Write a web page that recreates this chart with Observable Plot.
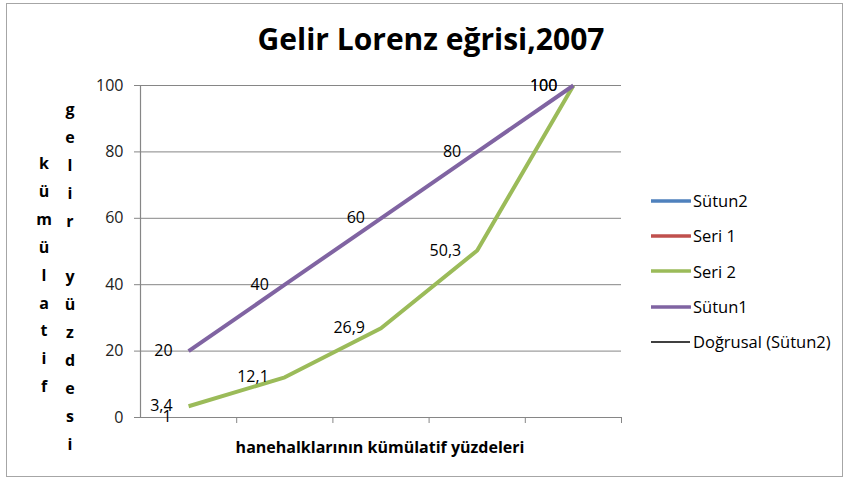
<!DOCTYPE html>
<html><head><meta charset="utf-8">
<script src="https://cdn.jsdelivr.net/npm/d3@7"></script>
<script src="https://cdn.jsdelivr.net/npm/@observablehq/plot@0.6"></script>
<style>
body{margin:0;background:#fff;font-family:"Open Sans",sans-serif}
#wrap{position:relative;width:849px;height:484px;overflow:hidden;background:#fff}
#frame{position:absolute;left:6px;top:3px;width:837px;height:474px;border:1px solid #a6a6a6;box-sizing:border-box}
#title{position:absolute;left:0;width:862px;top:18px;text-align:center;font-weight:bold;font-size:30px;color:#000}
#plot{position:absolute;left:0;top:0}
.ycol{position:absolute;top:0;white-space:pre;font-weight:bold;font-size:16px;line-height:27.9px;text-align:center;width:20px;color:#000}
#xtitle{position:absolute;left:139px;width:482px;top:436px;text-align:center;font-weight:bold;font-size:16px;color:#000}
#legend{position:absolute;left:651px;top:183px}
.li{display:flex;align-items:center;height:35.3px;font-size:16.5px;color:#000}
.li svg{margin-right:2px}
</style></head>
<body><div id="wrap"><div id="frame"></div><div id="title"></div><div id="plot"></div>
<div class="ycol" id="yc1"></div><div class="ycol" id="yc2"></div>
<div id="xtitle"></div><div id="legend"></div></div>
<script>
const title = "Gelir Lorenz eğrisi,2007";
const xTitle = "hanehalklarının kümülatif yüzdeleri";
const yTitle1 = "kümülatif";
const yTitle2 = "gelir yüzdesi";
const categories = [1, 2, 3, 4, 5];
const sutun1 = [20, 40, 60, 80, 100];
const seri2 = [3.4, 12.1, 26.9, 50.3, 100];
const sutun2 = [1];
const seri1 = [];
const yTicks = [0, 20, 40, 60, 80, 100];
const xTickBounds = [1.5, 2.5, 3.5, 4.5, 5.5];
const seriesNames = ["Sütun2", "Seri 1", "Seri 2", "Sütun1", "Doğrusal (Sütun2)"];
const seriesColors = ["#4F81BD", "#C0504D", "#9BBB59", "#8064A2", "#000000"];

document.getElementById("title").textContent = title;
document.getElementById("xtitle").textContent = xTitle;
const yc1 = document.getElementById("yc1"), yc2 = document.getElementById("yc2");
yc1.textContent = [...yTitle1].join("\n");
yc2.textContent = [...yTitle2].join("\n");
yc1.style.left = "34px"; yc1.style.top = "150px";
yc2.style.left = "60px"; yc2.style.top = "96px";

const toRows = (vals, name) => vals.map((v, i) => ({x: categories[i], y: v, name}));
const r1 = toRows(sutun1, "Sütun1"), r2 = toRows(seri2, "Seri 2"), r0 = toRows(sutun2, "Sütun2"), rr = toRows(seri1, "Seri 1");
const fmt = v => String(v).replace(".", ",");
const grey = "#868686";

const chart = Plot.plot({
  width: 849, height: 484,
  marginLeft: 140, marginRight: 228, marginTop: 85, marginBottom: 67,
  x: {domain: [0.5, 5.5], axis: null},
  y: {domain: [0, 100], axis: null},
  style: {fontFamily: "Open Sans", fontSize: "16px", background: "transparent", overflow: "visible"},
  marks: [
    Plot.gridY(yTicks, {stroke: grey, strokeOpacity: 1, strokeWidth: 1}),
    Plot.axisY({ticks: yTicks, tickSize: 6, tickPadding: 11, stroke: grey, fill: "#222", fontSize: 16, label: null}),
    Plot.axisX({ticks: xTickBounds, tickSize: 6, tickFormat: () => "", stroke: grey, label: null}),
    Plot.ruleX([0.5], {stroke: grey, strokeWidth: 1.2}),
    Plot.ruleY([0], {stroke: grey, strokeWidth: 1.2}),
    Plot.line(rr, {x: "x", y: "y", stroke: seriesColors[1], strokeWidth: 4, strokeLinecap: "butt"}),
    Plot.line(r0, {x: "x", y: "y", stroke: seriesColors[0], strokeWidth: 4, strokeLinecap: "butt"}),
    Plot.line(r2, {x: "x", y: "y", stroke: seriesColors[2], strokeWidth: 4, strokeLinecap: "butt"}),
    Plot.line(r1, {x: "x", y: "y", stroke: seriesColors[3], strokeWidth: 4, strokeLinecap: "butt"}),
    Plot.text(r1, {x: "x", y: "y", text: d => fmt(d.y), textAnchor: "end", dx: -16, fill: "#000", fontSize: 16}),
    Plot.text(r2, {x: "x", y: "y", text: d => fmt(d.y), textAnchor: "end", dx: -16, fill: "#000", fontSize: 16}),
    Plot.text(r0, {x: "x", y: "y", text: d => fmt(d.y), textAnchor: "end", dx: -17, dy: 3, fill: "#000", fontSize: 16})
  ]
});
document.getElementById("plot").appendChild(chart);

const legend = document.getElementById("legend");
seriesNames.forEach((n, i) => {
  const d = document.createElement("div");
  d.className = "li";
  const w = i === 4 ? 1.5 : 3.5;
  d.innerHTML = `<svg width="40" height="8"><line x1="0" x2="39" y1="4" y2="4" stroke="${seriesColors[i]}" stroke-width="${w}" ${i===4?'':'stroke-linecap="round"'}/></svg>`;
  const s = document.createElement("span");
  s.textContent = (i === 4 ? " " : "") + n;
  d.appendChild(s);
  legend.appendChild(d);
});
</script></body></html>
